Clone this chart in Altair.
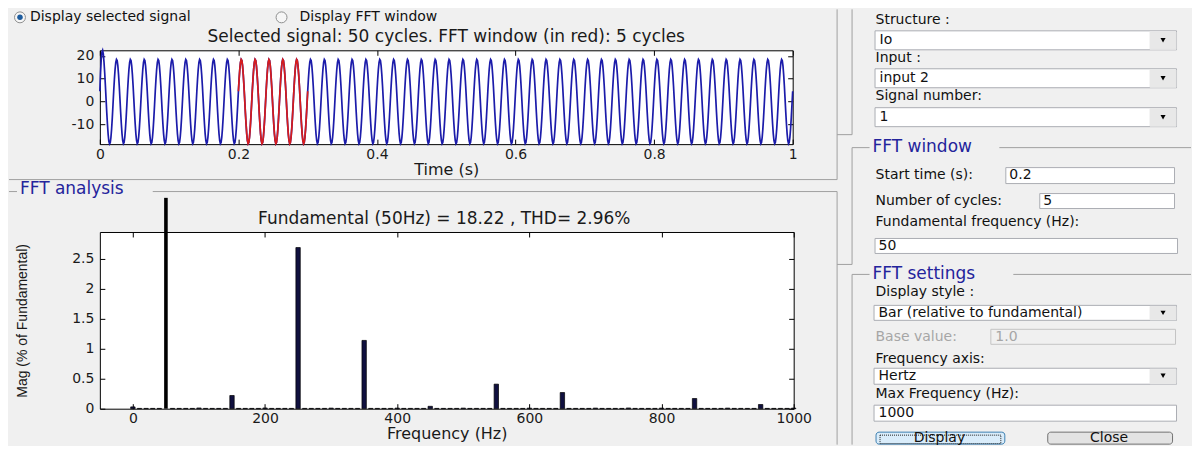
import altair as alt
import pandas as pd

# ------------------------------------------------------------------ data
# Selected signal: 20 samples per 50 Hz cycle (Ts = 1 ms)
first_cycle = [4.5, 12.5, 18.5, 21.6, 22.4, 20.8, 17.3, 12.6, 7.0, 1.0,
               -4.9, -10.0, -14.4, -17.4, -18.5, -18.0, -15.7, -11.9, -7.0, -1.3]
steady_cycle = [4.5, 9.7, 14.1, 17.1, 18.4, 17.9, 15.6, 11.8, 6.9, 1.3,
                -4.5, -9.7, -14.1, -17.1, -18.4, -17.9, -15.6, -11.8, -6.9, -1.3]
cycles_total = 50
sample_time = 0.001
fft_start = 0.2
fft_cycles = 5
fundamental_hz = 50

time_ticks = [0, 0.2, 0.4, 0.6, 0.8, 1]
signal_ticks = [-10, 0, 10, 20]
freq_ticks = [0, 200, 400, 600, 800, 1000]
mag_ticks = [0, 0.5, 1, 1.5, 2, 2.5]

# FFT magnitudes (% of fundamental) on the 10 Hz bins 0 ... 1000 Hz
bin_freqs = list(range(0, 1001, 10))
fft_mag = [
    0.030, 0.005, 0.005, 0.005, 0.005, 100.0, 0.005, 0.005, 0.005, 0.005,  # 0-90
    0.012, 0.005, 0.005, 0.005, 0.005, 0.22, 0.005, 0.005, 0.005, 0.005,    # 100-190
    0.012, 0.005, 0.005, 0.005, 0.005, 2.69, 0.005, 0.005, 0.005, 0.005,    # 200-290
    0.010, 0.005, 0.005, 0.005, 0.005, 1.14, 0.005, 0.005, 0.005, 0.005,    # 300-390
    0.010, 0.005, 0.005, 0.005, 0.005, 0.04, 0.005, 0.005, 0.005, 0.005,    # 400-490
    0.010, 0.005, 0.005, 0.005, 0.005, 0.41, 0.005, 0.005, 0.005, 0.005,    # 500-590
    0.010, 0.005, 0.005, 0.005, 0.005, 0.27, 0.005, 0.005, 0.005, 0.005,    # 600-690
    0.010, 0.005, 0.005, 0.005, 0.005, 0.012, 0.005, 0.005, 0.005, 0.005,   # 700-790
    0.010, 0.005, 0.005, 0.005, 0.005, 0.17, 0.005, 0.005, 0.005, 0.005,    # 800-890
    0.010, 0.005, 0.005, 0.005, 0.005, 0.07, 0.005, 0.005, 0.005, 0.005,    # 900-990
    0.010,                                                                  # 1000
]
fundamental_peak = "18.22"
thd_text = "2.96%"

# ------------------------------------------------------------------ tables
sig_vals = first_cycle + steady_cycle * (cycles_total - 1) + [steady_cycle[0]]
sig_df = pd.DataFrame({
    "t": [round(i * sample_time, 4) for i in range(len(sig_vals))],
    "v": sig_vals,
})
win_end = fft_start + fft_cycles / fundamental_hz
red_df = sig_df[(sig_df.t >= fft_start - 1e-9) & (sig_df.t <= win_end + 1e-9)]
fft_df = pd.DataFrame({"freq": bin_freqs, "mag": fft_mag})

# ------------------------------------------------------------------ GUI layout (page pixels)
OX, OY = 99, 49          # page position of the top plot's origin
W1, H1 = 694, 94
W2, H2 = 695, 177
GAP = 88


def page(rows, cols):
    d = pd.DataFrame(rows, columns=cols)
    for c in ("x", "x2"):
        if c in d:
            d[c] = d[c] - OX
    for c in ("y", "y2"):
        if c in d:
            d[c] = d[c] - OY
    return d


bound_df = page([(8, 8, 1192, 444)], ["x", "y", "x2", "y2"])

rule_df = page([
    (8, 178.5, 837.5, 178.5), (837.5, 8, 837.5, 178.5),
    (8, 190.5, 16, 190.5), (152, 190.5, 837.5, 190.5), (837.5, 190.5, 837.5, 444),
    (852.5, 8, 852.5, 133.5), (837.5, 133.5, 852.5, 133.5),
    (852.5, 146.5, 870, 146.5), (1000, 146.5, 1192, 146.5),
    (852.5, 146.5, 852.5, 263.5), (837.5, 263.5, 852.5, 263.5),
    (852.5, 273.5, 870, 273.5), (1014, 273.5, 1192, 273.5),
    (852.5, 273.5, 852.5, 444),
], ["x", "y", "x2", "y2"])

box_df = page([
    (875.5, 29.5, 1177.5, 48.5, "white", "#abadb3"),
    (875.5, 67.5, 1177.5, 86.5, "white", "#abadb3"),
    (875.5, 106.5, 1177.5, 125.5, "white", "#abadb3"),
    (1006.5, 166.5, 1175.5, 182.5, "white", "#abadb3"),
    (1040.5, 192.5, 1175.5, 207.5, "white", "#abadb3"),
    (875.5, 237.5, 1178.5, 252.5, "white", "#abadb3"),
    (874.5, 304.5, 1177.5, 319.5, "white", "#abadb3"),
    (991.5, 328.5, 1176.5, 343.5, "#f0f0f0", "#c4c4c4"),
    (874.5, 367.5, 1177.5, 383.5, "white", "#abadb3"),
    (874.5, 404.5, 1177.5, 420.5, "white", "#abadb3"),
    (1151, 30.5, 1177, 48, "#e8e8e8", "#e8e8e8"),
    (1151, 68.5, 1177, 86, "#e8e8e8", "#e8e8e8"),
    (1151, 107.5, 1177, 125, "#e8e8e8", "#e8e8e8"),
    (1151, 305.5, 1177, 319, "#e8e8e8", "#e8e8e8"),
    (1151, 368.5, 1177, 383, "#e8e8e8", "#e8e8e8"),
], ["x", "y", "x2", "y2", "f", "s"])

button_df = page([
    (876.5, 431.5, 1005.5, 443.5, "#d9ecfa", "#3c7fb1"),
    (1048.5, 431.5, 1173.5, 443.5, "#e3e3e3", "#707070"),
], ["x", "y", "x2", "y2", "f", "s"])

focus_df = page([(880.5, 434.5, 1001.5, 443)], ["x", "y", "x2", "y2"])

radio_df = page([(19, 16), (281, 16)], ["x", "y"])
radio_dot_df = page([(19, 16)], ["x", "y"])
arrow_df = page([(1164, 39), (1164, 77), (1164, 116), (1164, 312), (1164, 375)], ["x", "y"])

gui_text_df = page([
    (29, 16, "Display selected signal", "#111111"),
    (299, 16, "Display FFT window", "#111111"),
    (876, 19, "Structure :", "#111111"),
    (880, 39, "Io", "#111111"),
    (876, 57, "Input :", "#111111"),
    (880, 77, "input 2", "#111111"),
    (876, 95, "Signal number:", "#111111"),
    (880, 116, "1", "#111111"),
    (876, 174, "Start time (s):", "#111111"),
    (1010, 174, "0.2", "#111111"),
    (876, 200, "Number of cycles:", "#111111"),
    (1044, 200, "5", "#111111"),
    (876, 221, "Fundamental frequency (Hz):", "#111111"),
    (879, 245, "50", "#111111"),
    (876, 291, "Display style :", "#111111"),
    (879, 312, "Bar (relative to fundamental)", "#111111"),
    (876, 336, "Base value:", "#a6a6a6"),
    (996, 336, "1.0", "#a6a6a6"),
    (876, 358, "Frequency axis:", "#111111"),
    (879, 375, "Hertz", "#111111"),
    (876, 393, "Max Frequency (Hz):", "#111111"),
    (879, 412, "1000", "#111111"),
], ["x", "y", "label", "c"])

button_text_df = page([(940, 437, "Display"), (1110, 437, "Close")], ["x", "y", "label"])

group_title_df = page([
    (19, 188, "FFT analysis"),
    (873, 146, "FFT window"),
    (873, 273, "FFT settings"),
], ["x", "y", "label"])

plot_title_df = page([
    (446, 36, f"Selected signal: {cycles_total} cycles. FFT window (in red): {fft_cycles} cycles"),
    (444, 218, f"Fundamental ({fundamental_hz}Hz) = {fundamental_peak} , THD= {thd_text}"),
], ["x", "y", "label"])


def px(f):
    return alt.X(f + ":Q", scale=None)


def py(f):
    return alt.Y(f + ":Q", scale=None)


FONT = "DejaVu Sans"

bound_layer = alt.Chart(bound_df).mark_rect(fill="#f0f0f0", fillOpacity=0, strokeOpacity=0).encode(
    x=px("x"), x2="x2:Q", y=py("y"), y2="y2:Q")
rule_layer = alt.Chart(rule_df).mark_rule(color="#a0a0a0", strokeWidth=1).encode(
    x=px("x"), x2="x2:Q", y=py("y"), y2="y2:Q")
box_layer = alt.Chart(box_df).mark_rect(strokeWidth=1).encode(
    x=px("x"), x2="x2:Q", y=py("y"), y2="y2:Q",
    fill=alt.Fill("f:N", scale=None), stroke=alt.Stroke("s:N", scale=None))
button_layer = alt.Chart(button_df).mark_rect(strokeWidth=1, cornerRadius=3).encode(
    x=px("x"), x2="x2:Q", y=py("y"), y2="y2:Q",
    fill=alt.Fill("f:N", scale=None), stroke=alt.Stroke("s:N", scale=None))
focus_layer = alt.Chart(focus_df).mark_rect(fillOpacity=0, stroke="#222222",
                                             strokeWidth=1, strokeDash=[1, 1]).encode(
    x=px("x"), x2="x2:Q", y=py("y"), y2="y2:Q")
radio_layer = alt.Chart(radio_df).mark_point(shape="circle", size=120, filled=True, fill="#f6f6f6",
                                              stroke="#8e8f8f", strokeWidth=1, opacity=1).encode(
    x=px("x"), y=py("y"))
radio_dot_layer = alt.Chart(radio_dot_df).mark_point(shape="circle", size=30, filled=True,
                                                      color="#1d5c9e", opacity=1).encode(
    x=px("x"), y=py("y"))
arrow_layer = alt.Chart(arrow_df).mark_point(shape="triangle-down", size=26, filled=True,
                                              color="#000000", opacity=1).encode(
    x=px("x"), y=py("y"))
gui_text_layer = alt.Chart(gui_text_df).mark_text(align="left", baseline="middle", font=FONT,
                                                   fontSize=14).encode(
    x=px("x"), y=py("y"), text="label:N", color=alt.Color("c:N", scale=None))
button_text_layer = alt.Chart(button_text_df).mark_text(align="center", baseline="middle", font=FONT,
                                                         fontSize=14, color="#111111").encode(
    x=px("x"), y=py("y"), text="label:N")
group_title_layer = alt.Chart(group_title_df).mark_text(align="left", baseline="middle", font=FONT,
                                                         fontSize=17, color="#24249c").encode(
    x=px("x"), y=py("y"), text="label:N")
plot_title_layer = alt.Chart(plot_title_df).mark_text(align="center", baseline="middle", font=FONT,
                                                       fontSize=17, color="#1a1a1a").encode(
    x=px("x"), y=py("y"), text="label:N")

# ------------------------------------------------------------------ top plot: selected signal
xs1 = alt.Scale(domain=[0, 1], nice=False, zero=False, padding=0)
ys1 = alt.Scale(domain=[-18.6, 22.4], nice=False, zero=False, padding=0)
LBL = "'' + datum.value"

blue_line = alt.Chart(sig_df).mark_line(color="#1c1caa", strokeWidth=1.7).encode(
    x=alt.X("t:Q", scale=xs1, axis=alt.Axis(orient="bottom", values=time_ticks, offset=-5, tickSize=5,
                                             labelPadding=3, labelExpr=LBL, title="Time (s)",
                                             titleY=30, titleBaseline="middle")),
    y=alt.Y("v:Q", scale=ys1, axis=alt.Axis(orient="left", values=signal_ticks, offset=-5, tickSize=5,
                                             labelPadding=6, labelExpr=LBL, title=None)),
)
red_line = alt.Chart(red_df).mark_line(color="#d81c1c", strokeWidth=1.7).encode(
    x=alt.X("t:Q", scale=xs1, axis=alt.Axis(orient="top", values=time_ticks, offset=-5, tickSize=5,
                                             labels=False, title=None)),
    y=alt.Y("v:Q", scale=ys1, axis=alt.Axis(orient="right", values=signal_ticks, offset=-5, tickSize=5,
                                             labels=False, title=None)),
)

top = alt.layer(
    bound_layer, rule_layer, box_layer, button_layer, focus_layer, radio_layer, radio_dot_layer,
    arrow_layer, gui_text_layer, button_text_layer, group_title_layer, plot_title_layer,
    blue_line, red_line,
).properties(width=W1, height=H1).resolve_axis(x="independent", y="independent")

# ------------------------------------------------------------------ bottom plot: FFT bars
xs2 = alt.Scale(domain=[-50, 1000], nice=False, zero=False, padding=0)
ys2 = alt.Scale(domain=[0, 2.95], nice=False, padding=0)
fft_base = alt.Chart(fft_df).transform_calculate(shown="min(datum.mag, 3.52)")

harm_bars = fft_base.transform_filter(f"datum.freq != {fundamental_hz}").mark_bar(
    size=4.4, color="#10103f", stroke="#000000", strokeWidth=0.7).encode(
    x=alt.X("freq:Q", scale=xs2, axis=alt.Axis(orient="bottom", values=freq_ticks, offset=-5, tickSize=5,
                                                labelPadding=3, labelExpr=LBL, title="Frequency (Hz)",
                                                titleY=30, titleBaseline="middle")),
    y=alt.Y("shown:Q", scale=ys2, axis=alt.Axis(orient="left", values=mag_ticks, offset=-5, tickSize=5,
                                                 labelPadding=6, labelExpr=LBL,
                                                 title="Mag (% of Fundamental)", titleX=-82, titleY=88.5,
                                                 titleAngle=270, titleAlign="center", titleBaseline="middle",
                                                 titleFont="Liberation Sans", titleFontSize=14)),
)
fund_bar = fft_base.transform_filter(f"datum.freq == {fundamental_hz}").mark_bar(
    size=3.6, color="#000000", clip=False).encode(
    x=alt.X("freq:Q", scale=xs2, axis=alt.Axis(orient="top", values=freq_ticks, offset=-5, tickSize=5,
                                                labels=False, title=None)),
    y=alt.Y("shown:Q", scale=ys2, axis=alt.Axis(orient="right", values=mag_ticks, offset=-5, tickSize=5,
                                                 labels=False, title=None)),
)

bottom = alt.layer(harm_bars, fund_bar).properties(width=W2, height=H2).resolve_axis(
    x="independent", y="independent")

chart = alt.vconcat(top, bottom, spacing=GAP, bounds="flush").properties(
    background="#f0f0f0", padding=0
).configure_axis(
    labelFont=FONT, labelFontSize=14, labelColor="#1a1a1a", labelFlush=False, labelOverlap=False,
    tickColor="#000000", tickWidth=1, domain=False, grid=False,
    titleFont=FONT, titleFontSize=16, titleFontWeight="normal", titleColor="#1a1a1a",
).configure_view(stroke="#000000", strokeWidth=1, fill="white")

chart.save("out.html", embed_options={"renderer": "svg", "actions": False})
